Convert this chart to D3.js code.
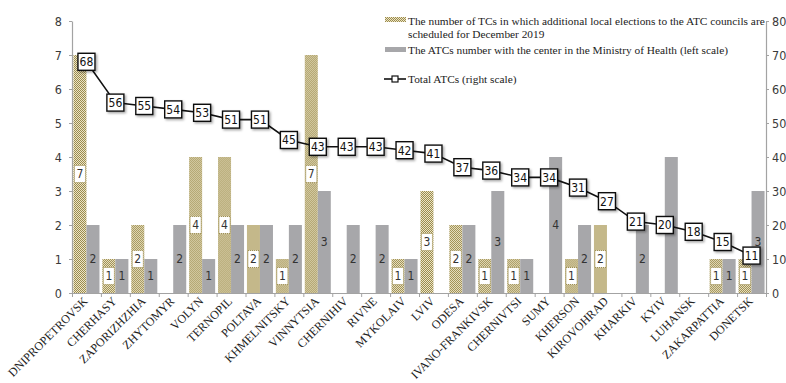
<!DOCTYPE html>
<html>
<head>
<meta charset="utf-8">
<script src="https://cdn.jsdelivr.net/npm/d3@7"></script>
<style>
  html, body { margin: 0; padding: 0; background: #fff; }
  svg { display: block; }
  .num { font-family: "Liberation Sans Narrow", "DejaVu Sans Condensed", "Arial Narrow", sans-serif; }
  .serif { font-family: "Liberation Serif", "Times New Roman", serif; }
</style>
</head>
<body>
<svg id="chart" width="786" height="383"></svg>
<script>
// Regions (oblasts) ordered by total ATC count
const categories = ["DNIPROPETROVSK", "CHERHASY", "ZAPORIZHZHIA", "ZHYTOMYR", "VOLYN", "TERNOPIL",
  "POLTAVA", "KHMELNITSKY", "VINNYTSIA", "CHERNIHIV", "RIVNE", "MYKOLAIV", "LVIV", "ODESA",
  "IVANO-FRANKIVSK", "CHERNIVTSI", "SUMY", "KHERSON", "KIROVOHRAD", "KHARKIV", "KYIV",
  "LUHANSK", "ZAKARPATTIA", "DONETSK"];
// TCs with additional local elections scheduled for December 2019 (left scale)
const electionTCs = [7, 1, 2, 0, 4, 4, 2, 1, 7, 0, 0, 1, 3, 2, 1, 1, 0, 1, 2, 0, 0, 0, 1, 1];
// ATCs with the center in the Ministry of Health (left scale)
const healthATCs = [2, 1, 1, 2, 1, 2, 2, 2, 3, 2, 2, 1, 0, 2, 3, 1, 4, 2, 0, 2, 4, 0, 1, 3];
// Total ATCs (right scale)
const totalATCs = [68, 56, 55, 54, 53, 51, 51, 45, 43, 43, 43, 42, 41, 37, 36, 34, 34, 31, 27, 21, 20, 18, 15, 11];
const leftTicks = [0, 1, 2, 3, 4, 5, 6, 7, 8];
const rightTicks = [0, 10, 20, 30, 40, 50, 60, 70, 80];
const legendLabels = [
  ["The number of TCs in which additional local elections to the ATC councils are", "scheduled for December 2019"],
  ["The ATCs number with the center in the Ministry of Health (left scale)"],
  ["Total ATCs (right scale)"]
];

const svg = d3.select("#chart");
const L = 72, R = 766, T = 21, B = 293;
const axisColor = "#a3a3a3";
const grayFill = "#a7a7aa";
const olive = "#9b8c4e";

const defs = svg.append("defs");
const pat = defs.append("pattern").attr("id", "chk")
  .attr("width", 2).attr("height", 2).attr("patternUnits", "userSpaceOnUse");
pat.append("rect").attr("width", 2).attr("height", 2).attr("fill", "#ece4c6");
pat.append("rect").attr("width", 1).attr("height", 1).attr("fill", olive);
pat.append("rect").attr("x", 1).attr("y", 1).attr("width", 1).attr("height", 1).attr("fill", olive);
const sh = defs.append("filter").attr("id", "shadow").attr("x", "-30%").attr("y", "-30%").attr("width", "170%").attr("height", "170%");
sh.append("feDropShadow").attr("dx", 1.5).attr("dy", 1.5).attr("stdDeviation", 0.8)
  .attr("flood-color", "#000").attr("flood-opacity", 0.35);

const x = d3.scaleBand().domain(categories).range([L, R]).padding(0);
const bw = x.bandwidth();
const x1 = d3.scaleBand().domain(["elec", "health"]).range([bw * 0.05, bw * 0.95]).padding(0);
const y = d3.scaleLinear().domain([0, 8]).range([B, T]);
const y2 = d3.scaleLinear().domain([0, 80]).range([B, T]);
const idx = d3.scaleLinear().domain([0, categories.length]).range([L, R]);

// Axes
function styleAxis(g) {
  g.selectAll(".domain").attr("stroke", axisColor).attr("stroke-width", 1.2);
  g.selectAll(".tick line").attr("stroke", axisColor);
  g.selectAll(".tick text").attr("class", "num").attr("fill", "#3a3a3a").style("font-size", "12.5px");
}
svg.append("g").attr("transform", `translate(${L},0)`)
  .call(d3.axisLeft(y).tickValues(leftTicks).tickSize(3).tickPadding(7).tickSizeOuter(0))
  .call(styleAxis);
svg.append("g").attr("transform", `translate(${R},0)`)
  .call(d3.axisRight(y2).tickValues(rightTicks).tickSize(3).tickPadding(3).tickSizeOuter(0))
  .call(styleAxis);

// Bars
const groups = svg.append("g").selectAll("g").data(categories).join("g")
  .attr("transform", d => `translate(${x(d)},0)`);

groups.append("rect")
  .attr("x", x1("elec")).attr("width", x1.bandwidth())
  .attr("y", (d, i) => y(electionTCs[i]))
  .attr("height", (d, i) => y(0) - y(electionTCs[i]))
  .attr("fill", "url(#chk)");
groups.append("rect")
  .attr("x", x1("health")).attr("width", x1.bandwidth())
  .attr("y", (d, i) => y(healthATCs[i]))
  .attr("height", (d, i) => y(0) - y(healthATCs[i]))
  .attr("fill", grayFill);

// Bottom axis with ticks between categories
svg.append("g").attr("transform", `translate(0,${B})`)
  .call(d3.axisBottom(idx).tickValues(d3.range(0, categories.length + 1)).tickFormat("").tickSize(4).tickSizeOuter(0))
  .call(styleAxis);

// Value labels inside bars
groups.filter((d, i) => healthATCs[i] > 0).append("text")
  .attr("class", "num")
  .attr("x", x1("health") + x1.bandwidth() / 2)
  .attr("y", d => (y(0) + y(healthATCs[categories.indexOf(d)])) / 2)
  .attr("dy", "0.36em").attr("text-anchor", "middle")
  .style("font-size", "12px").attr("fill", "#333")
  .text(d => healthATCs[categories.indexOf(d)]);

const eLab = groups.filter((d, i) => electionTCs[i] > 0).append("g")
  .attr("transform", d => {
    const v = electionTCs[categories.indexOf(d)];
    return `translate(${x1("elec") + x1.bandwidth() / 2},${(y(0) + y(v)) / 2})`;
  });
eLab.append("rect")
  .attr("x", -(x1.bandwidth() - 2) / 2).attr("y", -8.5)
  .attr("width", x1.bandwidth() - 2).attr("height", 17)
  .attr("fill", "#fff").attr("stroke", olive).attr("stroke-width", 1).attr("stroke-dasharray", "1,1");
eLab.append("text").attr("class", "num")
  .attr("dy", "0.36em").attr("text-anchor", "middle")
  .style("font-size", "12px").attr("fill", "#333")
  .text(d => electionTCs[categories.indexOf(d)]);

// Total ATCs line
const cx = d => x(d) + bw / 2;
svg.append("path")
  .datum(categories)
  .attr("fill", "none").attr("stroke", "#111").attr("stroke-width", 1.6)
  .attr("d", d3.line().x(cx).y((d, i) => y2(totalATCs[i])));
const marks = svg.append("g").selectAll("g").data(categories).join("g")
  .attr("transform", (d, i) => `translate(${cx(d)},${y2(totalATCs[i])})`);
marks.append("rect")
  .attr("x", -8.5).attr("y", -8.5).attr("width", 17).attr("height", 17)
  .attr("fill", "#fff").attr("stroke", "#111").attr("stroke-width", 1.4)
  .attr("filter", "url(#shadow)");
marks.append("text").attr("class", "num")
  .attr("dy", "0.36em").attr("text-anchor", "middle")
  .style("font-size", "12px").attr("fill", "#111")
  .text((d, i) => totalATCs[i]);

// Category labels
svg.append("g").selectAll("text").data(categories).join("text")
  .attr("class", "serif")
  .attr("transform", d => `translate(${cx(d) - 1},${B + 6}) rotate(-45)`)
  .attr("text-anchor", "end").attr("dy", "0.35em")
  .style("font-size", "12px").attr("fill", "#222")
  .text(d => d);

// Legend
const lg = svg.append("g").attr("class", "serif").attr("fill", "#222");
lg.append("rect").attr("x", 385).attr("y", 17).attr("width", 21).attr("height", 5).attr("fill", "url(#chk)");
const first = lg.append("text").attr("x", 408).attr("y", 25).style("font-size", "12px").text(legendLabels[0][0]);
// size the legend so the first line ends at the right axis
const fs = 12 * 357 / first.node().getComputedTextLength();
lg.style("font-size", fs + "px");
first.style("font-size", null);
lg.append("text").attr("x", 408).attr("y", 38).text(legendLabels[0][1]);
lg.append("rect").attr("x", 385).attr("y", 47).attr("width", 21).attr("height", 5).attr("fill", grayFill);
lg.append("text").attr("x", 408).attr("y", 54).text(legendLabels[1][0]);
lg.append("line").attr("x1", 384).attr("x2", 406).attr("y1", 79).attr("y2", 79)
  .attr("stroke", "#111").attr("stroke-width", 1.6);
lg.append("rect").attr("x", 392).attr("y", 76).attr("width", 6).attr("height", 6)
  .attr("fill", "#fff").attr("stroke", "#111").attr("stroke-width", 1.2);
lg.append("text").attr("x", 408).attr("y", 83).text(legendLabels[2][0]);
</script>
</body>
</html>
